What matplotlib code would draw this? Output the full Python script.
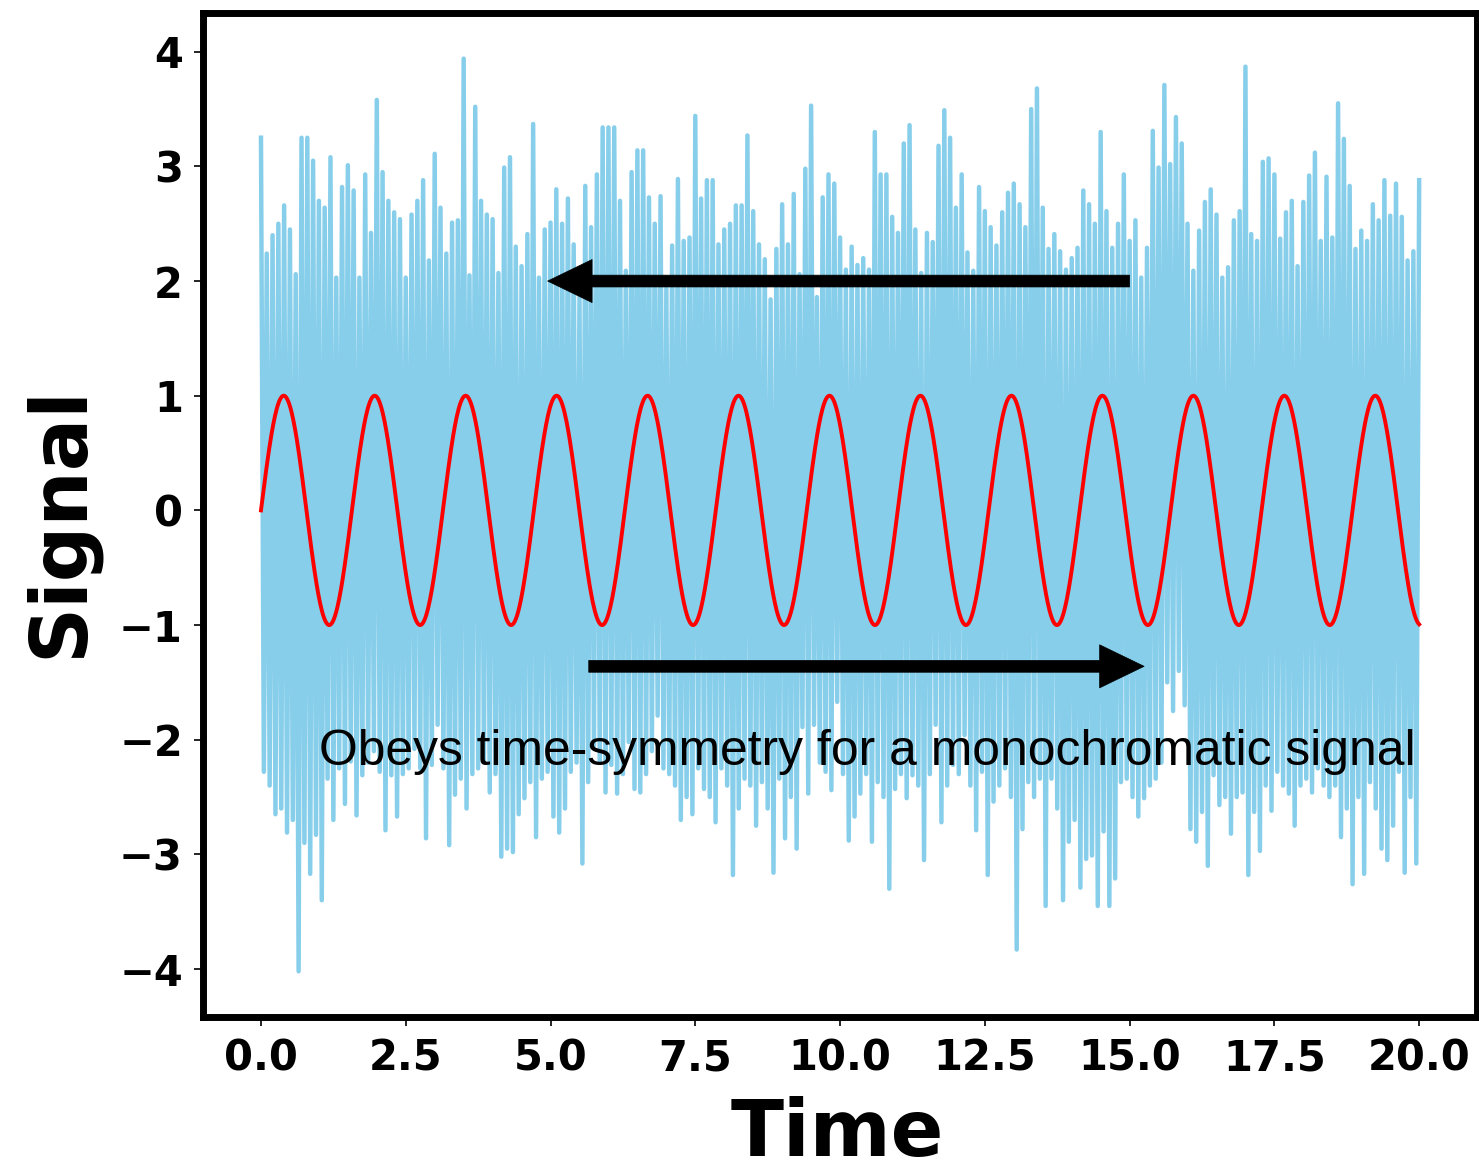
import numpy as np
import matplotlib
matplotlib.use("Agg")
import matplotlib.pyplot as plt

# Noisy record: local maxima sampled every 0.1 time units starting at t = 0.0
noise_upper = [
    3.25, 2.24, 2.40, 2.50, 2.66, 2.45, 2.06, 3.25, 3.25, 3.05,
    2.70, 2.64, 3.08, 2.03, 2.82, 3.01, 2.79, 2.03, 2.93, 2.42,
    3.58, 2.95, 2.70, 2.60, 2.54, 2.03, 2.58, 2.70, 2.88, 2.18,
    3.11, 2.64, 2.24, 2.51, 2.53, 3.94, 2.05, 3.52, 2.70, 2.58,
    2.54, 2.07, 2.99, 3.08, 2.30, 2.13, 2.41, 3.37, 2.03, 2.45,
    2.51, 2.80, 2.50, 2.72, 2.32, 1.86, 2.83, 2.47, 2.93, 3.34,
    3.34, 3.34, 2.70, 2.09, 2.95, 3.14, 3.14, 2.73, 2.50, 2.74,
    1.94, 2.31, 2.89, 2.35, 2.38, 3.44, 2.72, 2.88, 2.88, 2.32,
    2.45, 2.50, 2.66, 2.66, 3.27, 2.61, 2.32, 2.19, 1.84, 2.28,
    2.67, 2.32, 2.76, 2.06, 2.98, 3.53, 1.86, 2.73, 2.93, 2.85,
    2.38, 2.10, 2.30, 2.14, 2.20, 2.10, 3.30, 2.93, 2.93, 2.56,
    2.42, 3.20, 3.36, 2.45, 2.07, 2.42, 2.34, 3.18, 3.49, 3.25,
    2.64, 2.93, 2.25, 2.09, 2.82, 2.61, 2.47, 2.31, 2.60, 2.77,
    2.85, 2.67, 2.47, 3.50, 3.68, 2.64, 2.28, 2.41, 2.26, 2.10,
    2.20, 2.29, 2.79, 2.67, 2.50, 3.30, 2.61, 2.29, 2.50, 2.93,
    2.35, 2.53, 2.03, 2.29, 3.31, 2.99, 3.71, 3.02, 3.43, 3.20,
    2.50, 2.09, 2.44, 2.69, 2.80, 2.58, 2.03, 2.12, 2.53, 2.61,
    3.87, 2.41, 2.35, 3.04, 3.07, 2.93, 2.37, 2.60, 2.70, 2.13,
    2.69, 2.92, 3.12, 2.35, 2.91, 2.38, 3.55, 3.24, 2.83, 2.28,
    2.44, 2.35, 2.67, 2.53, 2.88, 2.57, 2.85, 2.56, 2.18, 2.26,
    2.88,
]

# Noisy record: local minima sampled every 0.1 time units starting at t = 0.05
noise_lower = [
    -2.28, -2.40, -2.65, -2.60, -2.81, -2.70, -4.02, -2.90, -3.17, -2.83,
    -3.40, -2.34, -2.70, -2.25, -2.56, -2.19, -2.66, -2.31, -2.20, -2.10,
    -2.28, -2.79, -2.31, -2.67, -2.30, -2.25, -2.08, -2.25, -2.86, -2.22,
    -1.87, -2.25, -2.92, -2.48, -2.34, -2.60, -2.30, -2.25, -2.19, -2.46,
    -2.30, -3.02, -2.95, -2.98, -2.65, -2.51, -2.37, -2.85, -2.34, -2.28,
    -2.67, -2.81, -2.60, -2.28, -2.20, -3.08, -2.37, -2.05, -2.20, -2.46,
    -2.22, -2.47, -2.30, -2.02, -2.43, -2.46, -2.30, -2.10, -1.79, -2.25,
    -2.30, -2.40, -2.70, -2.50, -2.65, -2.25, -2.43, -2.50, -2.72, -2.25,
    -2.40, -3.18, -2.60, -2.34, -2.40, -2.75, -2.37, -2.60, -3.16, -2.34,
    -2.86, -2.50, -2.95, -1.89, -2.47, -1.87, -2.20, -2.28, -2.44, -1.67,
    -2.30, -2.88, -2.67, -2.47, -2.30, -2.89, -2.37, -2.50, -3.30, -2.43,
    -2.30, -2.51, -2.31, -2.40, -3.05, -2.30, -1.87, -2.72, -2.40, -2.22,
    -2.30, -1.96, -2.40, -2.79, -2.28, -3.18, -2.54, -2.40, -2.25, -2.50,
    -3.83, -2.78, -2.37, -2.50, -2.34, -3.45, -2.34, -2.60, -3.40, -2.89,
    -2.70, -3.29, -3.04, -3.01, -3.45, -2.80, -3.45, -3.21, -2.37, -2.34,
    -2.50, -2.67, -2.51, -2.40, -2.34, -2.20, -1.50, -1.75, -1.40, -1.70,
    -2.78, -2.89, -2.63, -3.10, -2.31, -2.57, -2.50, -2.82, -2.50, -2.46,
    -3.18, -2.63, -2.97, -2.40, -2.62, -2.28, -2.40, -2.47, -2.75, -2.40,
    -2.34, -2.46, -2.25, -2.40, -2.50, -2.40, -2.85, -2.60, -3.26, -2.50,
    -3.17, -2.37, -2.60, -2.95, -3.05, -2.75, -2.28, -3.16, -2.50, -3.08,
]

# Monochromatic component
sine_amplitude = 1.0
sine_angular_freq = 4.0      # rad per time unit (period ~1.57)
t_end = 20.0

x_ticks = [0.0, 2.5, 5.0, 7.5, 10.0, 12.5, 15.0, 17.5, 20.0]
y_ticks = [-4, -3, -2, -1, 0, 1, 2, 3, 4]
annotation = "Obeys time-symmetry for a monochromatic signal"

# Interleave maxima and minima into one time series
n_up, n_lo = len(noise_upper), len(noise_lower)
t_noise = np.empty(n_up + n_lo)
y_noise = np.empty(n_up + n_lo)
t_noise[0::2] = np.arange(n_up) * 0.1
t_noise[1::2] = np.arange(n_lo) * 0.1 + 0.05
y_noise[0::2] = noise_upper
y_noise[1::2] = noise_lower

t_sine = np.linspace(0.0, t_end, 2000)
y_sine = sine_amplitude * np.sin(sine_angular_freq * t_sine)

fig = plt.figure(figsize=(14.79, 11.68), dpi=100)
ax = fig.add_axes([0.1373, 0.1293, 0.8614, 0.8596])

ax.plot(t_noise, y_noise, color="skyblue", lw=3.2, zorder=1)
ax.plot(t_sine, y_sine, color="red", lw=2.8, zorder=2)

arrow_style = dict(facecolor="black", edgecolor="black", lw=0.5,
                   width=8.5, headwidth=31, headlength=32, shrink=0.0)
ax.annotate("", xy=(4.95, 2.0), xytext=(15.0, 2.0), arrowprops=arrow_style, zorder=4)
ax.annotate("", xy=(15.25, -1.36), xytext=(5.66, -1.36), arrowprops=arrow_style, zorder=4)

ax.text(1.0, -2.22, annotation, fontsize=35.8, family="Liberation Sans",
        ha="left", va="baseline", color="black", zorder=5)

ax.set_xticks(x_ticks)
ax.set_yticks(y_ticks)
ax.set_xticklabels([f"{v:.1f}" for v in x_ticks])
ax.set_yticklabels([f"{v}".replace("-", "\u2212") for v in y_ticks])
for lab in ax.get_xticklabels() + ax.get_yticklabels():
    lab.set_fontweight("bold")
    lab.set_fontsize(30)
ax.tick_params(length=6.5, width=1.2, pad=8)

for sp in ax.spines.values():
    sp.set_linewidth(5)

ax.set_xlabel("Time", fontsize=56, fontweight="bold")
ax.set_ylabel("Signal", fontsize=56, fontweight="bold")
ax.xaxis.set_label_coords(0.498, -0.079)
ax.yaxis.set_label_coords(-0.082, 0.493)

fig.savefig("out.png", dpi=100)
